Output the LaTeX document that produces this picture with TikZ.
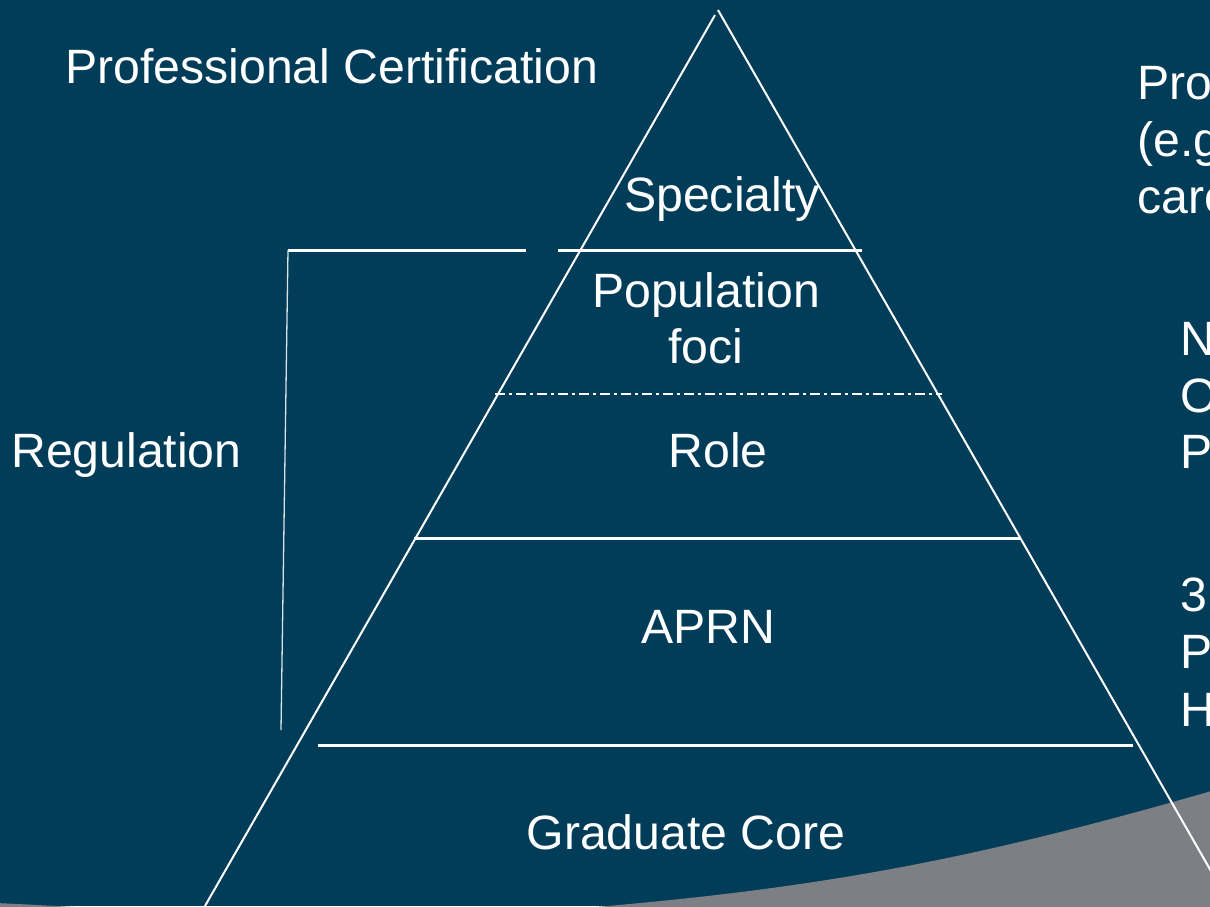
\documentclass[tikz,border=0pt]{standalone}
\usepackage{fontspec}
\setmainfont{Liberation Sans}
\begin{document}
\begin{tikzpicture}[x=1pt,y=-1pt,
  lbl/.style={text=white,font=\fontsize{48.2}{57}\selectfont,inner sep=0pt},
  side/.style={white,line width=2pt},
  tier/.style={white,line width=3pt},
  dashdot/.style={white,line width=2.2pt,dash pattern=on 10pt off 4pt on 3pt off 4pt},
  bracket/.style={white!85!bg,line width=1.3pt},
]
\definecolor{bg}{RGB}{1,61,89}
\definecolor{swoosh}{RGB}{124,128,132}
\useasboundingbox (0,0) rectangle (1210,906);
\clip (0,0) rectangle (1210,906);
% background and grey swoosh
\fill[bg] (0,0) rectangle (1210,906);
\fill[swoosh] (1215,790) .. controls (962,863) and (810,890) .. (560,910)
  .. controls (300,925) and (100,907) .. (-5,903) -- (-5,930) -- (1215,930) -- cycle;

% pyramid sides
\coordinate (apexL) at (715,15);
\coordinate (baseL) at (205,906);
\coordinate (apexR) at (718,10);
\coordinate (baseR) at (1231,906);
\draw[side] (apexL) -- (baseL);
\draw[side] (apexR) -- (baseR);

% tier dividers
\coordinate (s1a) at (558,250); \coordinate (s1b) at (862,250);
\coordinate (d1a) at (495,394); \coordinate (d1b) at (942,394);
\coordinate (r1a) at (414,538); \coordinate (r1b) at (1020,538);
\coordinate (a1a) at (318,745); \coordinate (a1b) at (1133,745);
\draw[tier] (s1a) -- (s1b);
\draw[dashdot] (d1a) -- (d1b);
\draw[tier] (r1a) -- (r1b);
\draw[tier] (a1a) -- (a1b);

% regulation bracket
\coordinate (bt) at (288,250);
\coordinate (be) at (526,250);
\coordinate (bb) at (281,730);
\draw[tier] (bt) -- (be);
\draw[bracket] (bt) -- (bb);

% labels
\node[lbl,anchor=base west] (cert) at (65,83) {Professional Certification};
\node[lbl,anchor=base] (spec) at (722,211) {Specialty};
\node[lbl,anchor=base] (pop) at (706,307) {Population};
\node[lbl,anchor=base] (foci) at (706,363) {foci};
\node[lbl,anchor=base] (role) at (718,467) {Role};
\node[lbl,anchor=base] (aprn) at (708,643) {APRN};
\node[lbl,anchor=base] (core) at (686,849) {Graduate Core};
\node[lbl,anchor=base west] (reg) at (11,467) {Regulation};

% right-hand column
\node[lbl,anchor=base west] (r1) at (1137,99) {Pro};
\node[lbl,anchor=base west] (r2) at (1137,156) {(e.g};
\node[lbl,anchor=base west] (r3) at (1137,213) {care};
\node[lbl,anchor=base west] (n1) at (1180,355) {N};
\node[lbl,anchor=base west] (n2) at (1180,412) {O};
\node[lbl,anchor=base west] (n3) at (1180,468) {P};
\node[lbl,anchor=base west] (m1) at (1180,611) {3};
\node[lbl,anchor=base west] (m2) at (1180,668) {P};
\node[lbl,anchor=base west] (m3) at (1180,726) {H};
\end{tikzpicture}
\end{document}
